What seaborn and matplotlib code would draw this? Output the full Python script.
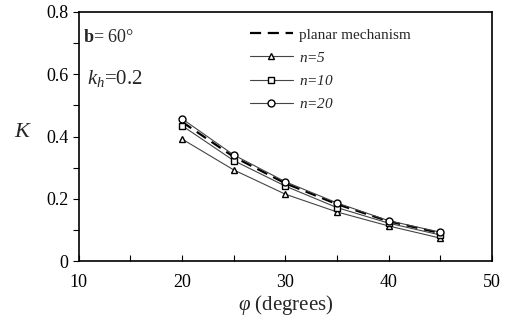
import matplotlib.pyplot as plt
import seaborn as sns
import numpy as np
import pandas as pd
from matplotlib.ticker import MultipleLocator

sns.set_theme(style="white")
plt.rcParams['font.family'] = ['Liberation Serif', 'DejaVu Serif']
plt.rcParams['mathtext.fontset'] = 'custom'
plt.rcParams['mathtext.rm'] = 'Liberation Serif'
plt.rcParams['mathtext.it'] = 'Liberation Serif:italic'
plt.rcParams['mathtext.bf'] = 'Liberation Serif:bold'

# Data
phi = [20, 25, 30, 35, 40, 45]
k_planar = [0.447, 0.335, 0.250, 0.183, 0.128, 0.090]
k_n5 = [0.392, 0.293, 0.215, 0.158, 0.113, 0.074]
k_n10 = [0.435, 0.323, 0.241, 0.172, 0.122, 0.084]
k_n20 = [0.457, 0.341, 0.255, 0.187, 0.130, 0.093]

fig = plt.figure(figsize=(5.05, 3.24), dpi=100)
ax = fig.add_axes([0.156, 0.194, 0.818, 0.769])

sns.lineplot(x=phi, y=k_planar, ax=ax, color='black', linewidth=1.6,
             linestyle=(0, (5, 3)), label='planar mechanism')
sns.lineplot(x=phi, y=k_n5, ax=ax, color='#444444', linewidth=0.8,
             marker='^', markersize=5, markerfacecolor='white',
             markeredgecolor='black', markeredgewidth=1.0, label='$n$=5')
sns.lineplot(x=phi, y=k_n10, ax=ax, color='#444444', linewidth=0.8,
             marker='s', markersize=5, markerfacecolor='white',
             markeredgecolor='black', markeredgewidth=1.0, label='$n$=10')
sns.lineplot(x=phi, y=k_n20, ax=ax, color='#444444', linewidth=0.8,
             marker='o', markersize=5, markerfacecolor='white',
             markeredgecolor='black', markeredgewidth=1.0, label='$n$=20')

ax.set_xlim(10, 50)
ax.set_ylim(0, 0.8)
ax.xaxis.set_major_locator(MultipleLocator(10))
ax.xaxis.set_minor_locator(MultipleLocator(5))
ax.yaxis.set_major_locator(MultipleLocator(0.2))
ax.yaxis.set_minor_locator(MultipleLocator(0.1))
ax.set_yticks([0, 0.2, 0.4, 0.6, 0.8])
ax.set_yticklabels(['0', '0.2', '0.4', '0.6', '0.8'])
ax.tick_params(axis='x', which='both', direction='in', length=4, width=0.8,
               bottom=True, labelsize=13, colors='black', pad=9)
ax.tick_params(axis='y', which='both', direction='out', length=4, width=0.8,
               left=True, labelsize=13, colors='black')
for s in ax.spines.values():
    s.set_color('black')
    s.set_linewidth(1.2)

ax.set_xlabel(r'$\varphi$ (degrees)', fontsize=15, labelpad=2)
ax.set_ylabel('$K$', fontsize=16, rotation=0, labelpad=22)
ax.yaxis.set_label_coords(-0.135, 0.48)

ax.text(0.01, 0.88, r'$\mathbf{b}$= 60°', transform=ax.transAxes, fontsize=13)
ax.text(0.02, 0.71, '$k_h$=0.2', transform=ax.transAxes, fontsize=15)

leg = ax.legend(loc='upper left', bbox_to_anchor=(0.385, 0.985), frameon=False,
                fontsize=11, handlelength=2.8, labelspacing=0.6, borderpad=0.3,
                handletextpad=0.4)
for t in leg.get_texts()[1:]:
    t.set_fontstyle('italic')

fig.savefig('out.png', dpi=100)
